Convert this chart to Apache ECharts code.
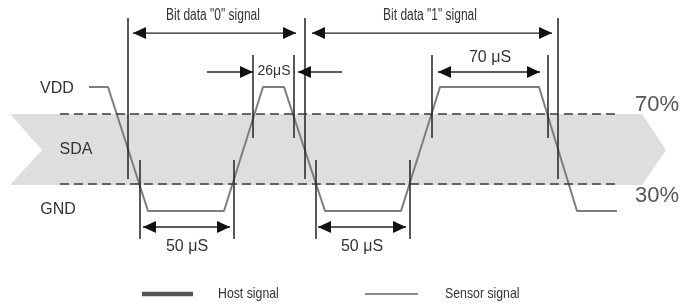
<!DOCTYPE html>
<html>
<head>
<meta charset="utf-8">
<script src="https://cdn.jsdelivr.net/npm/echarts/dist/echarts.min.js"></script>
<style>
  html, body { margin: 0; padding: 0; background: #fff; }
  #chart { width: 681px; height: 306px; }
</style>
</head>
<body>
<div id="chart"></div>
<script>
// Timing diagram - single bus, one "0" bit then one "1" bit
// x = time in diagram units, y = line level (GND = 0, VDD = 100)

var sensorWave = [[89, 100], [108, 100], [148, 0], [224, 0], [263, 100], [284, 100],
  [325, 0], [401, 0], [440, 100], [539, 100], [577, 0], [617, 0]];

var thresholdHigh = 78.2;
var thresholdLow = 21.8;

// SDA band (arrow shaped) between the thresholds
var bandShape = [[10, 78.2], [42, 49.2], [10, 21], [642, 21], [666, 49.2], [642, 78.2]];

// vertical timing marks [t, top, bottom]
var timeMarks = [
  [128, 155.6, 25.8], [305, 155.6, 25.8], [558, 155.6, 25.8],
  [140, 41.1, -22.6], [234, 41.1, -22.6], [316, 41.1, -22.6], [410, 41.1, -22.6],
  [253, 125.8, 58.9], [294, 125.8, 58.9], [432, 125.8, 58.9], [548, 125.8, 58.9]
];

// dimension arrows [from, to, level, head at start, head at end]
var spans = [
  [133, 296, 143.5, 1, 1], [312, 552, 143.5, 1, 1],
  [143, 230, -12.9, 1, 1], [318, 406, -12.9, 1, 1],
  [438, 540, 112.1, 1, 1],
  [207, 253, 112.1, 0, 1], [342, 298, 112.1, 0, 1]
];

// annotations [t, level, text, kind]
var annotations = [
  [213, 157.3, 'Bit data "0" signal', 'small'],
  [430, 157.3, 'Bit data "1" signal', 'small'],
  [274, 112.9, '26\u03bcS', 'mid'],
  [490, 123.4, '70 \u03bcS', 'big'],
  [187, -29, '50 \u03bcS', 'big'],
  [362, -29, '50 \u03bcS', 'big'],
  [57, 98.4, 'VDD', 'level'],
  [76, 49.2, 'SDA', 'level'],
  [58, 0.8, 'GND', 'level'],
  [657, 85.5, '70%', 'pct'],
  [657, 12.1, '30%', 'pct']
];

// legend [name, sample from, sample to, level, text start]
var legendItems = [
  ['Host signal', 142, 193, -66.9, 218],
  ['Sensor signal', 365, 418, -66.9, 445]
];

var sans = '"Liberation Sans", Arial, sans-serif';
var fonts = {
  small: { font: '16px ' + sans, sx: 0.75 },
  mid: { font: '14px ' + sans, sx: 1 },
  big: { font: '16px ' + sans, sx: 1 },
  level: { font: '16px ' + sans, sx: 1 },
  pct: { font: '22px ' + sans, sx: 1 }
};

var chart = echarts.init(document.getElementById('chart'), null, { renderer: 'canvas' });

var option = {
  animation: false,
  grid: { left: 0, right: 0, top: 0, bottom: 0 },
  xAxis: { type: 'value', min: 0, max: 681, show: false },
  yAxis: { type: 'value', min: -76.6, max: 170.16, show: false },
  series: [
    {
      type: 'custom',
      name: 'band',
      silent: true,
      z: 1,
      data: [0],
      renderItem: function (params, api) {
        var pts = bandShape.map(function (p) { return api.coord(p); });
        return { type: 'polygon', shape: { points: pts }, style: { fill: '#dedede' } };
      }
    },
    {
      type: 'line',
      name: 'Sensor signal',
      data: sensorWave,
      symbol: 'none',
      silent: true,
      z: 3,
      lineStyle: { width: 2, color: '#7d7d7d' },
      markLine: {
        silent: true,
        symbol: 'none',
        label: { show: false },
        lineStyle: { type: [9, 5], color: '#3a3a3a', width: 1.6 },
        data: [
          [{ coord: [60, thresholdHigh] }, { coord: [618, thresholdHigh] }],
          [{ coord: [60, thresholdLow] }, { coord: [618, thresholdLow] }]
        ]
      }
    },
    {
      type: 'custom',
      name: 'marks',
      silent: true,
      z: 4,
      data: timeMarks.map(function (m) { return [m[0], m[1]]; }),
      renderItem: function (params, api) {
        var m = timeMarks[params.dataIndex];
        var a = api.coord([m[0], m[1]]);
        var b = api.coord([m[0], m[2]]);
        return {
          type: 'line',
          shape: { x1: a[0], y1: a[1], x2: b[0], y2: b[1] },
          style: { stroke: '#222', lineWidth: 1.5 }
        };
      }
    },
    {
      type: 'custom',
      name: 'spans',
      silent: true,
      z: 4,
      data: spans.map(function (s) { return [s[0], s[2]]; }),
      renderItem: function (params, api) {
        var s = spans[params.dataIndex];
        var a = api.coord([s[0], s[2]]);
        var b = api.coord([s[1], s[2]]);
        var dir = b[0] > a[0] ? 1 : -1;
        var len = 13, half = 6;
        var kids = [{
          type: 'line',
          shape: { x1: a[0], y1: a[1], x2: b[0], y2: b[1] },
          style: { stroke: '#222', lineWidth: 1.3 }
        }];
        if (s[3]) {
          kids.push({ type: 'polygon', shape: { points: [[a[0], a[1]], [a[0] + dir * len, a[1] - half], [a[0] + dir * len, a[1] + half]] }, style: { fill: '#111' } });
        }
        if (s[4]) {
          kids.push({ type: 'polygon', shape: { points: [[b[0], b[1]], [b[0] - dir * len, b[1] - half], [b[0] - dir * len, b[1] + half]] }, style: { fill: '#111' } });
        }
        return { type: 'group', children: kids };
      }
    },
    {
      type: 'custom',
      name: 'labels',
      silent: true,
      z: 5,
      data: annotations.map(function (t) { return [t[0], t[1]]; }),
      renderItem: function (params, api) {
        var t = annotations[params.dataIndex];
        var p = api.coord([t[0], t[1]]);
        var f = fonts[t[3]];
        return {
          type: 'text',
          x: p[0], y: p[1], scaleX: f.sx,
          style: {
            text: t[2], x: 0, y: 0,
            align: 'center', verticalAlign: 'middle',
            font: f.font,
            fill: t[3] === 'pct' ? '#555' : '#333'
          }
        };
      }
    },
    {
      type: 'custom',
      name: 'legend',
      silent: true,
      z: 5,
      data: legendItems.map(function (l) { return [l[1], l[3]]; }),
      renderItem: function (params, api) {
        var l = legendItems[params.dataIndex];
        var a = api.coord([l[1], l[3]]);
        var b = api.coord([l[2], l[3]]);
        var t = api.coord([l[4], l[3]]);
        var host = params.dataIndex === 0;
        return {
          type: 'group',
          children: [{
            type: 'line',
            shape: { x1: a[0], y1: a[1], x2: b[0], y2: b[1] },
            style: { stroke: host ? '#555' : '#8a8a8a', lineWidth: host ? 4.5 : 2 }
          }, {
            type: 'text',
            x: t[0], y: t[1], scaleX: 0.82,
            style: { text: l[0], x: 0, y: 0, align: 'left', verticalAlign: 'middle', font: '15px ' + sans, fill: '#333' }
          }]
        };
      }
    }
  ]
};

chart.setOption(option);
window.addEventListener('resize', chart.resize);
</script>
</body>
</html>
